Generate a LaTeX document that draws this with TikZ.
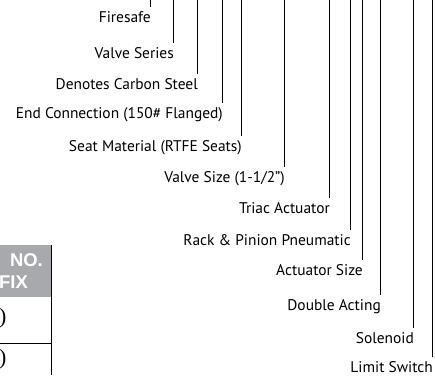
\documentclass[tikz,border=0pt]{standalone}
\usepackage{fontspec}
\setsansfont{PT Sans}
\newfontfamily\parenfont{Liberation Serif}
\newfontfamily\headfont{Liberation Sans}
\usepackage{tikz}
\usepackage{xcolor}
\definecolor{head-gray}{HTML}{A7A9AC}
\tikzset{
    label-text/.style = {font=\sffamily\fontsize{15.5}{18}\selectfont, anchor=base east, inner xsep=0pt, inner ysep=0pt, text height=15bp, text depth=2bp},
    leader-line/.style = {draw=black, line width=0.8bp},
    table-head/.style = {text=white, font=\headfont\bfseries\fontsize{18.5}{21}\selectfont, anchor=base east, inner sep=0pt},
    table-cell/.style = {font=\parenfont\fontsize{22}{24}\selectfont, anchor=west, inner sep=0pt},
}

\begin{document}
\begin{tikzpicture}[x=1bp, y=-1bp]
\useasboundingbox (0,0) rectangle (435,375);

% ordering code labels
\node[label-text] (fire) at (151,22) {Firesafe};
\node[label-text] (series) at (174,58) {Valve Series};
\node[label-text] (steel) at (198,89) {Denotes Carbon Steel};
\node[label-text] (endconn) at (223,118) {End Connection (150\# Flanged)};
\node[label-text] (seat) at (242,151) {Seat Material (RTFE Seats)};
\node[label-text] (size) at (285,182) {Valve Size (1-1/2")};
\node[label-text] (triac) at (330,213) {Triac Actuator};
\node[label-text] (rack) at (351,245) {Rack \& Pinion Pneumatic};
\node[label-text] (actsize) at (363,275) {Actuator Size};
\node[label-text] (double) at (381,310) {Double Acting};
\node[label-text] (solenoid) at (414,343) {Solenoid};
\node[label-text] (limit) at (433,372) {Limit Switch};

% tops of the leader lines
\coordinate (fire-top) at (150,0);
\coordinate (series-top) at (173,0);
\coordinate (steel-top) at (197,0);
\coordinate (endconn-top) at (222,0);
\coordinate (seat-top) at (241,0);
\coordinate (size-top) at (284,0);
\coordinate (triac-top) at (329,0);
\coordinate (rack-top) at (350,0);
\coordinate (actsize-top) at (362,0);
\coordinate (double-top) at (380,0);
\coordinate (solenoid-top) at (413,0);
\coordinate (limit-top) at (432,0);

\draw[leader-line] (fire-top) -- (fire-top |- fire.north);
\draw[leader-line] (series-top) -- (series-top |- series.north);
\draw[leader-line] (steel-top) -- (steel-top |- steel.north);
\draw[leader-line] (endconn-top) -- (endconn-top |- endconn.north);
\draw[leader-line] (seat-top) -- (seat-top |- seat.north);
\draw[leader-line] (size-top) -- (size-top |- size.north);
\draw[leader-line] (triac-top) -- (triac-top |- triac.north);
\draw[leader-line] (rack-top) -- (rack-top |- rack.north);
\draw[leader-line] (actsize-top) -- (actsize-top |- actsize.north);
\draw[leader-line] (double-top) -- (double-top |- double.north);
\draw[leader-line] (solenoid-top) -- (solenoid-top |- solenoid.north);
\draw[leader-line] (limit-top) -- (limit-top |- limit.north);

% part of the suffix table
\fill[head-gray] (0,245) rectangle (51,297);
\draw[line width=1bp] (51,245) -- (51,375);
\draw[line width=0.8bp] (0,343) -- (51,343);
\node[table-head] (head-no) at (43,266) {NO.};
\node[table-head] (head-fix) at (28,288) {FIX};
\node[table-cell] (cell-one) at (-1,318) {)};
\node[table-cell] (cell-two) at (-1,359) {)};
\end{tikzpicture}
\end{document}
